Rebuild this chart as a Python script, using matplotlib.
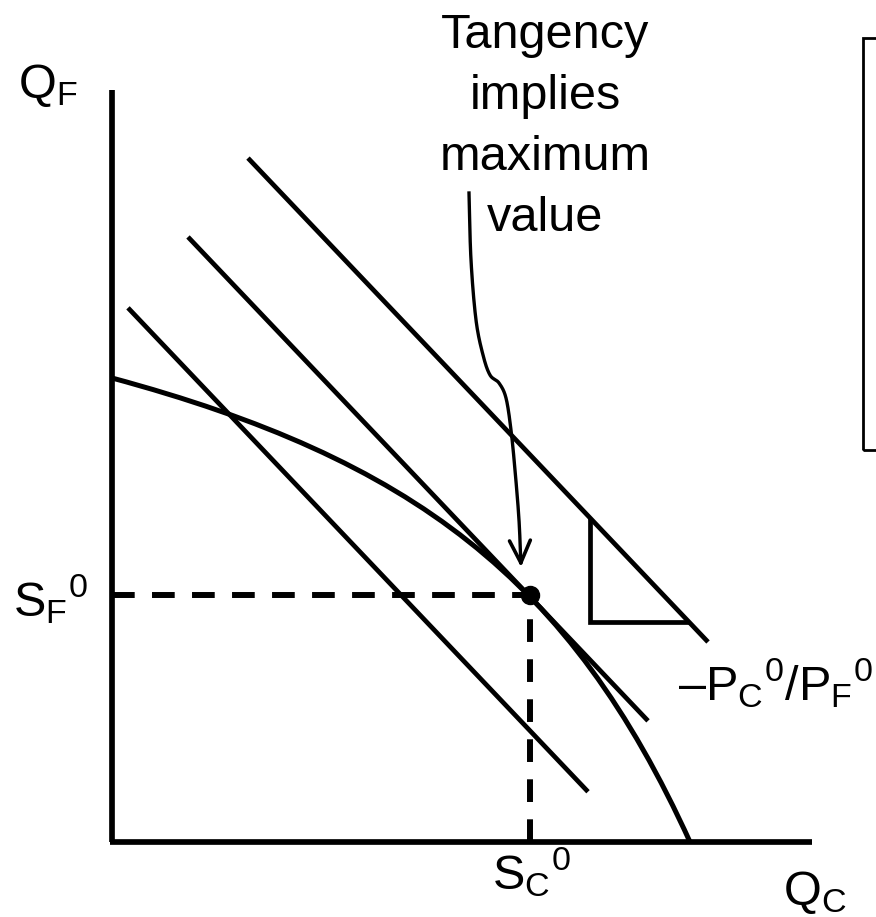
import numpy as np
import matplotlib
matplotlib.use("Agg")
import matplotlib.pyplot as plt
from matplotlib.patches import Rectangle, PathPatch
from matplotlib.path import Path

plt.rcParams['font.family'] = ['Liberation Sans', 'DejaVu Sans']
plt.rcParams['mathtext.fontset'] = 'custom'
plt.rcParams['mathtext.rm'] = 'Liberation Sans'
plt.rcParams['mathtext.it'] = 'Liberation Sans:italic'

# production possibility frontier, drawn as one cubic bezier
# (end points on the axes + two control points)
ppf_x = [0, 300, 458, 578]
ppf_y = [464, 383, 264, 0]

# iso-value lines: common slope, intercepts and x-range of each
iso_slope = -1.052
iso_intercepts = [551, 685, 827]
iso_x_start = [16, 76, 136]
iso_x_end = [476, 536, 596]

# optimum
s_c, s_f = 418, 247

# slope triangle on the highest line
tri_corner_x, tri_corner_y = 478, 220

# annotation curve
arrow_x = [357, 359, 364, 371, 378, 387, 394, 399, 403, 407, 409]
arrow_y = [649, 582, 522, 487, 467, 459, 444, 412, 372, 322, 275]

note_lines = ["Tangency", "implies", "maximum", "value"]


def smooth(xs, ys, n=25):
    # catmull-rom through the read points, just so the line looks drawn
    p = np.column_stack([xs, ys]).astype(float)
    p = np.vstack([2 * p[0] - p[1], p, 2 * p[-1] - p[-2]])
    t = np.linspace(0, 1, n, endpoint=False)[:, None]
    out = []
    for i in range(1, len(p) - 2):
        p0, p1, p2, p3 = p[i - 1], p[i], p[i + 1], p[i + 2]
        out.append(0.5 * (2 * p1 + (-p0 + p2) * t
                          + (2 * p0 - 5 * p1 + 4 * p2 - p3) * t ** 2
                          + (-p0 + 3 * p1 - 3 * p2 + p3) * t ** 3))
    out.append(p[-2][None])
    out = np.vstack(out)
    return out[:, 0], out[:, 1]


fig = plt.figure(figsize=(8.76, 9.17), dpi=100)
ax = fig.add_axes([0, 0, 1, 1])
ax.set_xlim(-112, 764)
ax.set_ylim(-75, 842)
ax.axis('off')

lw = 3.4
# axes
ax.plot([0, 0], [752, 0], color='black', lw=4.1, solid_capstyle='butt')
ax.plot([-2, 700], [0, 0], color='black', lw=4.1, solid_capstyle='butt')

# PPF
ppf = Path(np.column_stack([ppf_x, ppf_y]),
           [Path.MOVETO, Path.CURVE4, Path.CURVE4, Path.CURVE4])
ax.add_patch(PathPatch(ppf, fill=False, edgecolor='black', lw=3.6,
                       capstyle='butt'))

# iso-value lines
for b, x0, x1 in zip(iso_intercepts, iso_x_start, iso_x_end):
    xs = np.array([x0, x1])
    ax.plot(xs, b + iso_slope * xs, color='black', lw=lw, solid_capstyle='butt')

# dashed guides
dash = (0, (3.8, 2.9))
ax.plot([0, s_c], [s_f, s_f], color='black', lw=4.3, linestyle=dash,
        dash_capstyle='butt')
ax.plot([s_c, s_c], [0, s_f], color='black', lw=4.3, linestyle=dash,
        dash_capstyle='butt')
ax.plot([s_c], [s_f], 'o', color='black', markersize=13)

# slope triangle
top_y = iso_intercepts[2] + iso_slope * tri_corner_x
right_x = (tri_corner_y - iso_intercepts[2]) / iso_slope
ax.plot([tri_corner_x, tri_corner_x, right_x], [top_y, tri_corner_y, tri_corner_y],
        color='black', lw=lw, solid_joinstyle='miter', solid_capstyle='butt')

# annotation arrow
axx, ayy = smooth(arrow_x, arrow_y)
ax.plot(axx[:-3], ayy[:-3], color='black', lw=2.4)
ax.annotate('', xy=(axx[-1], ayy[-1]), xytext=(axx[-4], ayy[-4]),
            arrowprops=dict(arrowstyle='->,head_length=1.6,head_width=0.75',
                            lw=2.6, color='black', shrinkA=0, shrinkB=0))

for i, line in enumerate(note_lines):
    ax.text(433, 794 - 61 * i, line, fontsize=35, ha='center', va='baseline')

# labels
fs = 35
ax.text(-94, 744, r'$\mathrm{Q_F}$', fontsize=fs, ha='left', va='baseline')
ax.text(671, -63, r'$\mathrm{Q_C}$', fontsize=fs, ha='left', va='baseline')
ax.text(-99, 226, r'$\mathrm{S_F{}^0}$', fontsize=fs, ha='left', va='baseline')
ax.text(380, -47, r'$\mathrm{S_C{}^0}$', fontsize=fs, ha='left', va='baseline')
ax.text(566, 142, '–' + r'$\mathrm{P_C{}^0/P_F{}^0}$', fontsize=fs,
        ha='left', va='baseline')

# empty box at the right edge
ax.add_patch(Rectangle((751, 392), 100, 412, fill=False, edgecolor='black',
                       lw=2.0, clip_on=False))

fig.savefig('out.png', dpi=100)
